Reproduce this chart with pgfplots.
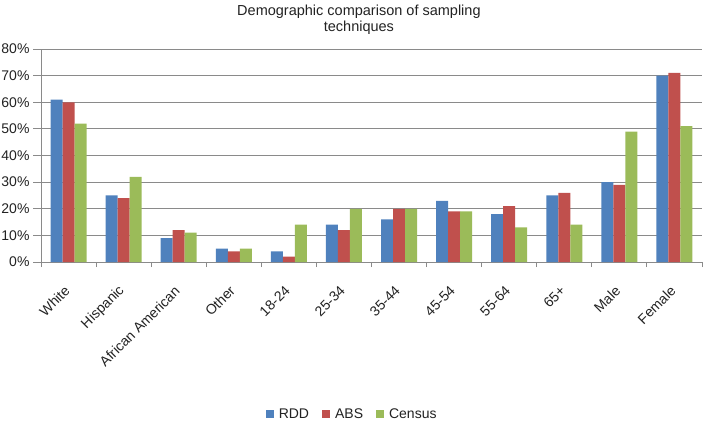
\documentclass[border=0pt]{standalone}
\usepackage{fontspec}
\setmainfont{Liberation Sans}
\usepackage{pgfplots}
\pgfplotsset{compat=1.18}

\definecolor{rdd}{HTML}{4F81BD}
\definecolor{abs}{HTML}{C0504D}
\definecolor{census}{HTML}{9BBB59}
\definecolor{gridgray}{HTML}{8A8A8A}
\definecolor{txt}{HTML}{222222}
\newcommand{\chartfont}{\fontsize{14bp}{16bp}\selectfont}

\begin{document}
\begin{tikzpicture}
\begin{axis}[
    scale only axis,
    width=661bp, height=213bp,
    ybar=0pt, bar width=12bp,
    xmin=-0.5, xmax=11.5,
    ymin=0, ymax=80,
    xtick={0,...,11},
    xticklabels={White,Hispanic,African American,Other,18-24,25-34,35-44,45-54,55-64,65+,Male,Female},
    minor xtick={-0.5,0.5,...,11.5},
    ytick={0,10,...,80},
    yticklabel={\pgfmathprintnumber{\tick}\%},
    /pgf/number format/assume math mode=true,
    axis lines*=left,
    axis line style={-, draw=gridgray, line width=0.9bp},
    tick align=outside,
    major tick length=8bp,
    minor tick length=5bp,
    xtick style={draw=none},
    minor x tick style={draw=gridgray, line width=0.9bp},
    ytick style={draw=gridgray, line width=0.9bp},
    ymajorgrids,
    grid style={draw=gridgray, line width=0.9bp},
    tick label style={font=\chartfont, text=txt},
    xticklabel style={yshift=-16bp, xshift=1bp, rotate=45, anchor=east},
    title={Demographic comparison of sampling\\techniques},
    title style={font=\fontsize{14.5bp}{16bp}\selectfont, text=txt, align=center,
                 at={(0.481,1.108)}, anchor=center, yshift=0pt},
    legend columns=3,
    legend style={draw=none, font=\chartfont, text=txt,
                  at={(0.473,-0.714)}, anchor=center,
                  nodes={inner xsep=5bp},
                  /tikz/every even column/.append style={column sep=8bp}},
    legend image code/.code={\fill[#1] (0bp,-4bp) rectangle (8bp,4bp);},
]
\addplot[fill=rdd, draw=none] coordinates {
    (0,61) (1,25) (2,9) (3,5) (4,4) (5,14) (6,16) (7,23) (8,18) (9,25) (10,30) (11,70)
};
\addlegendentry{RDD}
\addplot[fill=abs, draw=none] coordinates {
    (0,60) (1,24) (2,12) (3,4) (4,2) (5,12) (6,20) (7,19) (8,21) (9,26) (10,29) (11,71)
};
\addlegendentry{ABS}
\addplot[fill=census, draw=none] coordinates {
    (0,52) (1,32) (2,11) (3,5) (4,14) (5,20) (6,20) (7,19) (8,13) (9,14) (10,49) (11,51)
};
\addlegendentry{Census}
\coordinate (ll) at (rel axis cs:0,0);
\end{axis}
\pgfresetboundingbox
\path[use as bounding box] (ll) ++(-41bp,-159bp) rectangle ++(703bp,421bp);
\end{tikzpicture}
\end{document}
